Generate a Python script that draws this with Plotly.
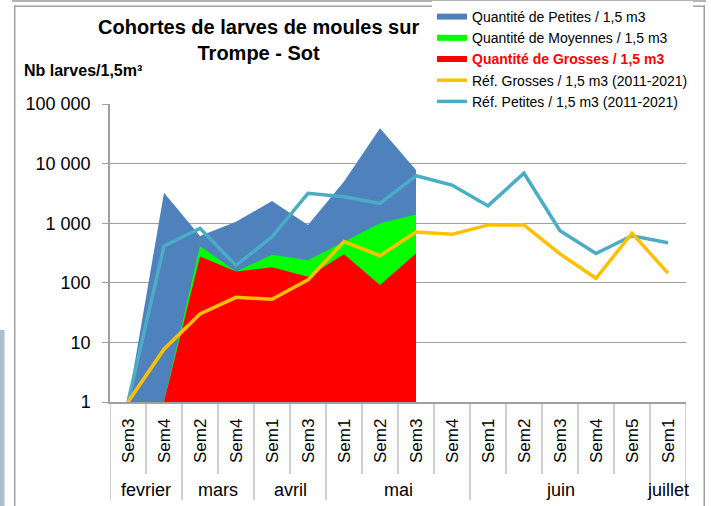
import plotly.graph_objects as go

# ---- data ----
weeks = ["Sem3", "Sem4", "Sem2", "Sem4", "Sem1", "Sem3", "Sem1", "Sem2", "Sem3", "Sem4",
         "Sem1", "Sem2", "Sem3", "Sem4", "Sem5", "Sem1"]
months = ["fevrier", "mars", "avril", "mai", "juin", "juillet"]
month_sizes = [2, 2, 2, 4, 5, 1]

petites = [1, 3250, 610, 1060, 2350, 935, 5000, 39000, 7800]
moyennes = [1, 1, 415, 155, 295, 240, 490, 1000, 1400]
grosses = [1, 1, 275, 155, 182, 126, 300, 92, 310]
ref_grosses = [1, 7.7, 30, 57, 53, 112, 490, 285, 710, 650, 930, 930, 305, 119, 680, 145]
ref_petites = [1, 415, 820, 195, 590, 3170, 2780, 2150, 6250, 4370, 1950, 6900, 750, 310, 615, 470]

y_tickvals = [1, 10, 100, 1000, 10000, 100000]
y_ticktext = ["1", "10", "100", "1 000", "10 000", "100 000"]

FONT = "Liberation Sans"
GRID = "#a0a0a0"

x_idx = list(range(len(weeks)))

fig = go.Figure()
fig.add_trace(go.Scatter(x=x_idx[:len(petites)], y=petites, mode="none", fill="tozeroy",
                         fillcolor="#4f81bd", name="Quantité de Petites / 1,5 m3", legendrank=1))
fig.add_trace(go.Scatter(x=x_idx[:len(moyennes)], y=moyennes, mode="none", fill="tozeroy",
                         fillcolor="#00ff00", name="Quantité de Moyennes / 1,5 m3", legendrank=2))
fig.add_trace(go.Scatter(x=x_idx[:len(grosses)], y=grosses, mode="none", fill="tozeroy",
                         fillcolor="#ff0000",
                         name="<b><span style='color:#ff0000'>Quantité de Grosses / 1,5 m3</span></b>",
                         legendrank=3))
fig.add_trace(go.Scatter(x=x_idx, y=ref_petites, mode="lines", line=dict(color="#4bacc6", width=3.5),
                         name="Réf. Petites / 1,5 m3 (2011-2021)", legendrank=5))
fig.add_trace(go.Scatter(x=x_idx, y=ref_grosses, mode="lines", line=dict(color="#ffc000", width=3.5),
                         name="Réf. Grosses / 1,5 m3 (2011-2021)", legendrank=4))

L, R, T, B = 110, 25, 104, 104
W, H = 711, 506
PW, PH = W - L - R, H - T - B


def px_x(px):
    return (px - L) / PW


def px_y(py):
    return (H - B - py) / PH


shapes = []
# week / month dividers below the axis
bounds = [-0.5]
for s in month_sizes:
    bounds.append(bounds[-1] + s)
for i in range(len(weeks) + 1):
    b = i - 0.5
    is_month = any(abs(b - mb) < 1e-9 for mb in bounds)
    shapes.append(dict(type="line", xref="x", yref="paper", x0=b, x1=b, y0=0,
                       y1=px_y(500) if is_month else px_y(474),
                       line=dict(color=GRID, width=1)))
# frame
shapes.append(dict(type="rect", xref="paper", yref="paper", x0=px_x(12), x1=px_x(706),
                   y0=px_y(2), y1=px_y(0), line=dict(width=0), fillcolor="#b4b4b4",
                   layer="above"))
shapes.append(dict(type="rect", xref="paper", yref="paper", x0=px_x(14), x1=px_x(705),
                   y0=px_y(7), y1=px_y(5.5), line=dict(width=0), fillcolor="#a0a0a0",
                   layer="above"))
shapes.append(dict(type="rect", xref="paper", yref="paper", x0=px_x(14), x1=px_x(15.5),
                   y0=px_y(506), y1=px_y(5.5), line=dict(width=0), fillcolor="#a0a0a0",
                   layer="above"))
shapes.append(dict(type="rect", xref="paper", yref="paper", x0=px_x(703.5), x1=px_x(705),
                   y0=px_y(506), y1=px_y(5.5), line=dict(width=0), fillcolor="#a0a0a0",
                   layer="above"))
shapes.append(dict(type="rect", xref="paper", yref="paper", x0=px_x(0), x1=px_x(4.5),
                   y0=px_y(506), y1=px_y(330), line=dict(width=0), fillcolor="#a9bfcb",
                   layer="above"))

annotations = []
pos = 0
for m, s in zip(months, month_sizes):
    c = pos + (s - 1) / 2
    annotations.append(dict(x=c, y=px_y(490), xref="x", yref="paper", text=m, showarrow=False,
                            font=dict(family=FONT, size=18, color="#000"), yanchor="middle"))
    pos += s

annotations.append(dict(x=px_x(258), y=px_y(40), xref="paper", yref="paper",
                        text="<b>Cohortes de larves de moules sur<br>Trompe - Sot</b>",
                        showarrow=False, font=dict(family=FONT, size=20, color="#000"),
                        xanchor="center", yanchor="middle"))
annotations.append(dict(x=px_x(22), y=px_y(70), xref="paper", yref="paper",
                        text="<b>Nb larves/1,5m³</b>", showarrow=False,
                        font=dict(family=FONT, size=16, color="#000"),
                        xanchor="left", yanchor="middle"))

fig.update_layout(
    width=W, height=H,
    margin=dict(l=L, r=R, t=T, b=B, pad=0, autoexpand=False),
    paper_bgcolor="white", plot_bgcolor="white",
    font=dict(family=FONT, color="#000"),
    showlegend=True,
    legend=dict(x=px_x(432), y=px_y(1), xanchor="left", yanchor="top",
                bgcolor="white", borderwidth=0, font=dict(family=FONT, size=14, color="#000"),
                itemwidth=30, tracegroupgap=0, traceorder="normal"),
    xaxis=dict(range=[-0.5, len(weeks) - 0.5], tickmode="array", tickvals=x_idx, ticktext=weeks,
               tickangle=-90, ticks="", showgrid=False, zeroline=False, showline=True,
               linecolor=GRID, linewidth=1.5, tickfont=dict(family=FONT, size=17, color="#000"),
               ticklabelstandoff=8, automargin=False),
    yaxis=dict(type="log", range=[0, 5], tickmode="array", tickvals=y_tickvals, ticktext=y_ticktext,
               ticks="outside", ticklen=6, tickcolor=GRID, showline=True, linecolor=GRID,
               linewidth=1.5, showgrid=True, gridcolor=GRID, gridwidth=1, zeroline=False,
               tickfont=dict(family=FONT, size=18, color="#000"), ticklabelstandoff=8,
               automargin=False),
    shapes=shapes,
    annotations=annotations,
)

fig.write_html("out.html", config={"displayModeBar": False},
               post_script="document.body.style.margin='0px';document.body.style.overflow='hidden';")
